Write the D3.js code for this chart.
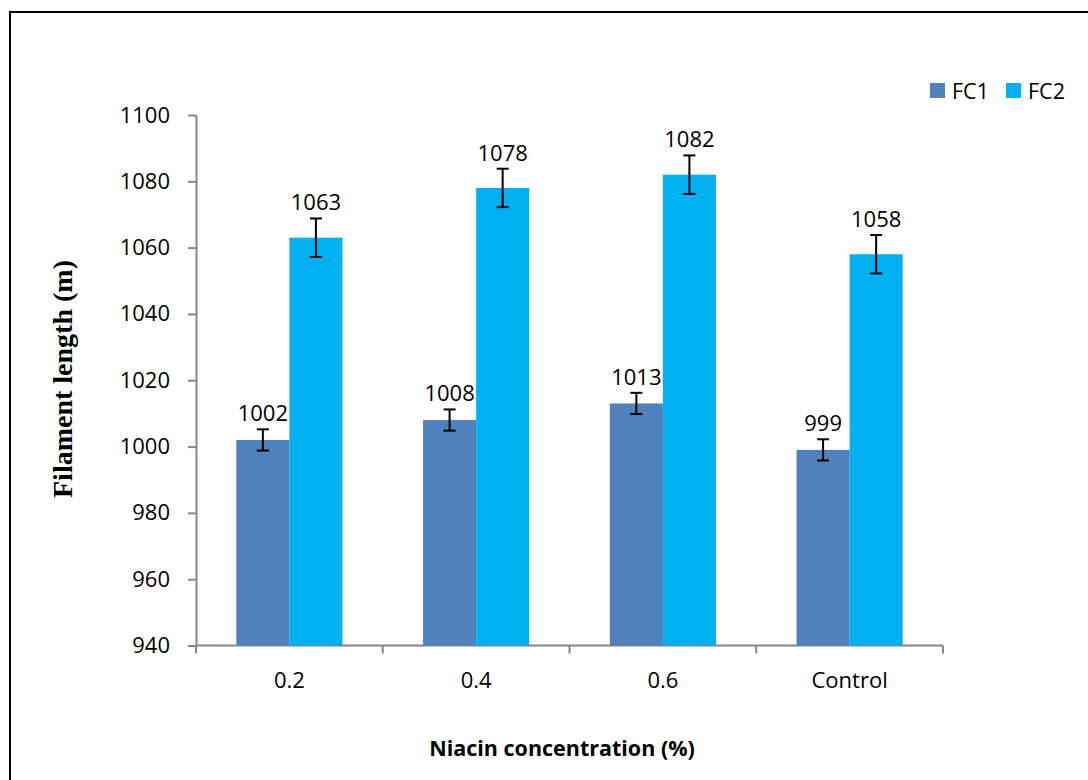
<!DOCTYPE html>
<html>
<head>
<meta charset="utf-8">
<script src="https://cdn.jsdelivr.net/npm/d3@7"></script>
<style>
  html, body { margin: 0; padding: 0; background: #fff; }
  svg { display: block; }
  .y.axis text, .x.axis text { font-family: "Open Sans", sans-serif; font-size: 22px; fill: #000; }
  .axis path, .axis line { stroke: #868686; stroke-width: 2; }
</style>
</head>
<body>
<div id="chart"></div>
<script>
// Data.
const categories = ["0.2", "0.4", "0.6", "Control"]
const seriesNames = ["FC1", "FC2"]
const fc1Values = [1002, 1008, 1013, 999]
const fc2Values = [1063, 1078, 1082, 1058]
const fc1Errors = [3.2, 3.2, 3.2, 3.2]
const fc2Errors = [5.8, 5.8, 5.8, 5.8]
const yTicks = [940, 960, 980, 1000, 1020, 1040, 1060, 1080, 1100]

const colourScheme = ["#4F81BD", "#00B0F0"]

const width = 1088
const height = 780
const plot = {left: 196, right: 943, top: 115, bottom: 645.5}

const svg = d3.select("#chart")
  .append("svg")
  .attr("width", width)
  .attr("height", height)

// Outer frame, the right and bottom edges fall off the picture.
svg.append("rect")
  .attr("x", 10)
  .attr("y", 12)
  .attr("width", width + 20)
  .attr("height", height + 20)
  .attr("fill", "none")
  .attr("stroke", "#000")
  .attr("stroke-width", 2)

// Scales
const xScale = d3.scaleBand()
  .domain(categories)
  .range([plot.left, plot.right])

const seriesScale = d3.scaleBand()
  .domain(seriesNames)
  .range([0, xScale.bandwidth()])
  .paddingOuter(0.76)

const yScale = d3.scaleLinear()
  .domain([940, 1100])
  .range([plot.bottom, plot.top])

// Y axis
svg.append("g")
  .attr("class", "y axis")
  .attr("transform", "translate(" + plot.left + ",0)")
  .call(d3.axisLeft(yScale)
    .tickValues(yTicks)
    .tickFormat(d3.format("d"))
    .tickSize(8)
    .tickSizeOuter(0)
    .tickPadding(18))

// X axis: labels centred in bands, tick marks on the band boundaries.
const xAxisG = svg.append("g")
  .attr("class", "x axis")
  .attr("transform", "translate(0," + plot.bottom + ")")
  .call(d3.axisBottom(xScale).tickSize(0).tickPadding(27))
xAxisG.select(".domain").remove()
xAxisG.append("line")
  .attr("x1", plot.left)
  .attr("x2", plot.right)
  .attr("y1", 0)
  .attr("y2", 0)
xAxisG.selectAll(".bound")
  .data(categories.map(c => xScale(c)).concat([plot.right]))
  .join("line")
  .attr("class", "bound")
  .attr("x1", d => d)
  .attr("x2", d => d)
  .attr("y1", 0)
  .attr("y2", 8)

// Bars
const rows = categories.map((c, i) => ({
  category: c,
  items: [
    {name: "FC1", value: fc1Values[i], err: fc1Errors[i]},
    {name: "FC2", value: fc2Values[i], err: fc2Errors[i]}
  ]
}))

const groups = svg.append("g")
  .selectAll("g")
  .data(rows)
  .join("g")
  .attr("transform", d => "translate(" + xScale(d.category) + ",0)")

groups.selectAll("rect")
  .data(d => d.items)
  .join("rect")
  .attr("x", d => seriesScale(d.name))
  .attr("y", d => yScale(d.value))
  .attr("width", seriesScale.bandwidth())
  .attr("height", d => yScale(940) - yScale(d.value))
  .attr("fill", (d, i) => colourScheme[i])

// Error bars
const errG = groups.selectAll("g.err")
  .data(d => d.items)
  .join("g")
  .attr("class", "err")
  .attr("stroke", "#000")
  .attr("stroke-width", 2)
const cx = d => seriesScale(d.name) + seriesScale.bandwidth() / 2
errG.append("line")
  .attr("x1", cx).attr("x2", cx)
  .attr("y1", d => yScale(d.value + d.err))
  .attr("y2", d => yScale(d.value - d.err))
errG.append("line")
  .attr("x1", d => cx(d) - 6).attr("x2", d => cx(d) + 6)
  .attr("y1", d => yScale(d.value + d.err))
  .attr("y2", d => yScale(d.value + d.err))
errG.append("line")
  .attr("x1", d => cx(d) - 6).attr("x2", d => cx(d) + 6)
  .attr("y1", d => yScale(d.value - d.err))
  .attr("y2", d => yScale(d.value - d.err))

// Data labels above the error bars
groups.selectAll("text.lbl")
  .data(d => d.items)
  .join("text")
  .attr("class", "lbl")
  .attr("x", cx)
  .attr("y", d => yScale(d.value + d.err) - 8)
  .attr("text-anchor", "middle")
  .style("font-family", "Open Sans, sans-serif")
  .style("font-size", "22px")
  .text(d => d.value)

// Axis titles
svg.append("text")
  .attr("transform", "translate(72,379) rotate(-90)")
  .attr("text-anchor", "middle")
  .style("font-family", "Liberation Serif, Times New Roman, serif")
  .style("font-weight", "bold")
  .style("font-size", "28px")
  .text("Filament length (m)")

svg.append("text")
  .attr("x", 562)
  .attr("y", 756)
  .attr("text-anchor", "middle")
  .style("font-family", "Open Sans, sans-serif")
  .style("font-weight", "bold")
  .style("font-size", "21.5px")
  .text("Niacin concentration (%)")

// Legend
const legend = svg.append("g")
  .attr("transform", "translate(930,83)")
const legendX = [0, 76]
seriesNames.forEach((name, i) => {
  const row = legend.append("g").attr("transform", "translate(" + legendX[i] + ",0)")
  row.append("rect")
    .attr("width", 15)
    .attr("height", 15)
    .attr("fill", colourScheme[i])
  row.append("text")
    .attr("x", 22)
    .attr("y", 15.5)
    .style("font-family", "Open Sans, sans-serif")
    .style("font-size", "21.5px")
    .text(name)
})
</script>
</body>
</html>
